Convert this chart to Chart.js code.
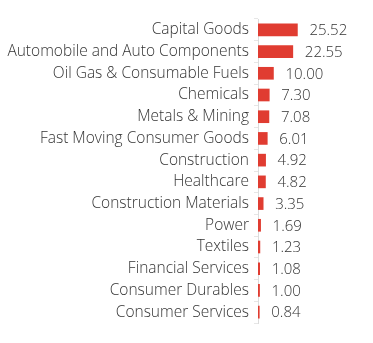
<!DOCTYPE html>
<html>
<head>
<meta charset="utf-8">
<script src="https://cdn.jsdelivr.net/npm/chart.js@4/dist/chart.umd.min.js"></script>
<style>
  html, body { margin: 0; padding: 0; background: #fff; }
  #wrap { width: 373px; height: 343px; }
</style>
</head>
<body>
<div id="wrap"><canvas id="sectorChart"></canvas></div>
<script>
const sectors = [
  'Capital Goods',
  'Automobile and Auto Components',
  'Oil Gas & Consumable Fuels',
  'Chemicals',
  'Metals & Mining',
  'Fast Moving Consumer Goods',
  'Construction',
  'Healthcare',
  'Construction Materials',
  'Power',
  'Textiles',
  'Financial Services',
  'Consumer Durables',
  'Consumer Services'
];
const weights = [25.52, 22.55, 10.00, 7.30, 7.08, 6.01, 4.92, 4.82, 3.35, 1.69, 1.23, 1.08, 1.00, 0.84];

// 柱状图右侧的数值标签
const valueLabels = {
  id: 'valueLabels',
  afterDatasetsDraw(chart) {
    const ctx = chart.ctx;
    const meta = chart.getDatasetMeta(0);
    ctx.save();
    ctx.font = '300 15px "Open Sans"';
    ctx.fillStyle = '#333';
    ctx.textBaseline = 'middle';
    ctx.textAlign = 'left';
    meta.data.forEach((bar, i) => {
      ctx.fillText(weights[i].toFixed(2), bar.x + 12, bar.y + 1);
    });
    ctx.restore();
  }
};

window.sectorChart = new Chart(document.getElementById('sectorChart'), {
  type: 'bar',
  data: {
    labels: sectors,
    datasets: [{
      data: weights,
      backgroundColor: '#e03c31',
      barThickness: 12
    }]
  },
  options: {
    indexAxis: 'y',
    responsive: true,
    maintainAspectRatio: false,
    animation: false,
    layout: { padding: { left: 4, right: 10, top: 19, bottom: 20 } },
    plugins: {
      legend: { display: false },
      tooltip: { enabled: false }
    },
    scales: {
      x: { display: false, min: 0, max: 68 },
      y: {
        // 标签很长，强制给足宽度
        afterFit(scale) { scale.width = 254; },
        border: { display: true, color: '#dcdcdc' },
        grid: { drawOnChartArea: false, tickLength: 4, color: '#e6e6e6' },
        ticks: {
          padding: 5,
          color: '#333',
          font: { family: '"Open Sans"', size: 15.5, weight: 300 }
        }
      }
    }
  },
  plugins: [valueLabels]
});
</script>
</body>
</html>
